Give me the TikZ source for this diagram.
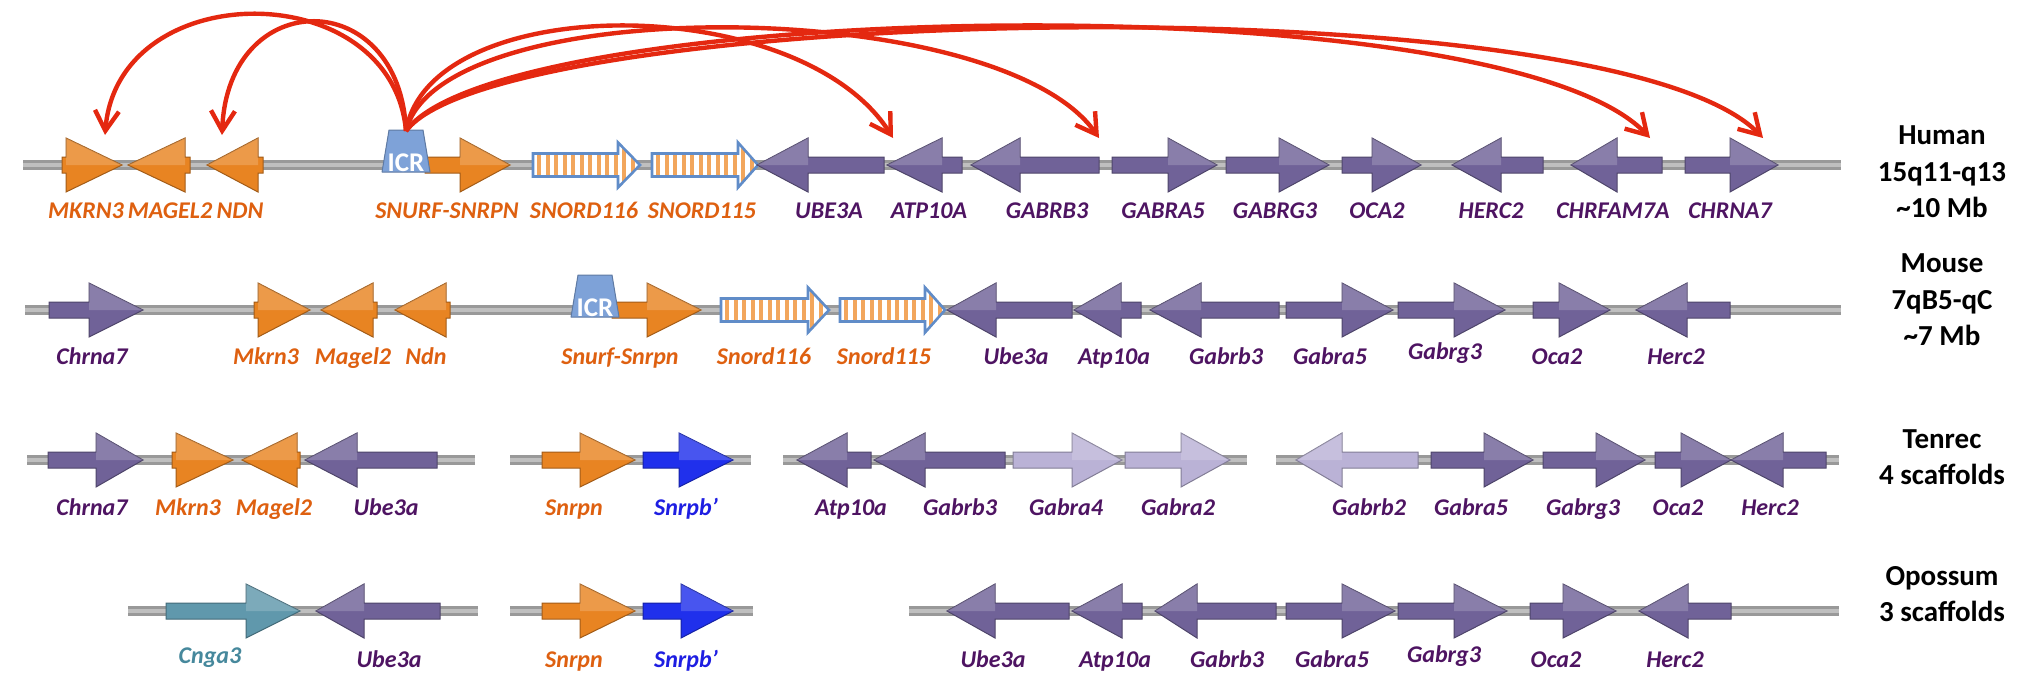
\documentclass[tikz,border=0pt]{standalone}
\usepackage{fontspec}
\setmainfont{Carlito}
\usetikzlibrary{arrows.meta}

\definecolor{genepurple}{RGB}{112,98,152}
\definecolor{lightpurple}{RGB}{186,178,214}
\definecolor{geneorange}{RGB}{232,132,34}
\definecolor{geneblue}{RGB}{32,48,236}
\definecolor{geneteal}{RGB}{96,152,172}
\definecolor{icrblue}{RGB}{126,162,216}
\definecolor{labpurple}{RGB}{78,20,98}
\definecolor{laborange}{RGB}{222,96,16}
\definecolor{labblue}{RGB}{30,30,226}
\definecolor{labteal}{RGB}{70,136,156}
\definecolor{arcred}{RGB}{228,40,16}
\definecolor{snordline}{RGB}{96,140,200}
\definecolor{stripe}{RGB}{242,166,92}

% tail, head base, tip, y, colour
\newcommand{\gene}[5]{%
  \filldraw[fill=#5, draw=#5!70!black, line width=0.5pt, line join=miter]
    (#1,#4-8) -- (#2,#4-8) -- (#2,#4-27) -- (#3,#4) -- (#2,#4+27) -- (#2,#4+8) -- (#1,#4+8) -- cycle;
  \fill[white, opacity=0.18] (#2,#4-27) -- (#3,#4) -- (#2,#4) -- cycle;}

% striped snoRNA cluster: tail, head base, tip, y
\newcommand{\snord}[4]{%
  \begin{scope}
    \clip (#1,#4-11.5) -- (#2,#4-11.5) -- (#2,#4-22.5) -- (#3,#4) -- (#2,#4+22.5) -- (#2,#4+11.5) -- (#1,#4+11.5) -- cycle;
    \fill[white] (#1,#4-25) rectangle (#3,#4+25);
    \foreach \s in {0,...,13} {\fill[stripe] ({#1+4+\s*8.5},#4-25) rectangle ++(4,50);}
  \end{scope}
  \draw[snordline, line width=1.3pt, line join=miter]
    (#1,#4-11.5) -- (#2,#4-11.5) -- (#2,#4-22.5) -- (#3,#4) -- (#2,#4+22.5) -- (#2,#4+11.5) -- (#1,#4+11.5) -- cycle;}

% imprinting centre box: centre x, top y
\newcommand{\icrbox}[2]{%
  \filldraw[fill=icrblue, draw=icrblue!75!black, line width=0.5pt, line join=round]
    (#1-17,#2) -- (#1+17,#2) -- (#1+24,#2+42) -- (#1-24,#2+42) -- cycle;}

\tikzset{
  backbone/.style={draw=gray!80, line width=1.2pt, double=gray!50, double distance=2.2pt},
  glab/.style={font=\bfseries\itshape\fontsize{12}{14}\selectfont, anchor=base, inner sep=0pt},
  plab/.style={glab, text=labpurple},
  olab/.style={glab, text=laborange},
  blab/.style={glab, text=labblue},
  tlab/.style={glab, text=labteal},
  spec/.style={font=\bfseries\fontsize{14.5}{18.25}\selectfont, align=center, inner sep=0pt},
  icrtext/.style={font=\bfseries\fontsize{13.5}{15}\selectfont, text=white, inner sep=0pt},
  icrarc/.style={draw=arcred, line width=2.2pt, -{Straight Barb[length=10pt,width=12pt]}}
}

\begin{document}
\begin{tikzpicture}[x=0.5pt, y=-0.5pt]
  \useasboundingbox (0,0) rectangle (2032,696);

  \draw[backbone] (23,165) -- (1841,165);
  \draw[backbone] (25,310) -- (1841,310);
  \draw[backbone] (27,460) -- (475,460);
  \draw[backbone] (510,460) -- (751,460);
  \draw[backbone] (783,460) -- (1247,460);
  \draw[backbone] (1276,460) -- (1839,460);
  \draw[backbone] (128,611) -- (478,611);
  \draw[backbone] (510,611) -- (753,611);
  \draw[backbone] (909,611) -- (1839,611);

  \gene{62}{66}{122}{165}{geneorange}
  \gene{190}{185}{128}{165}{geneorange}
  \gene{263}{258}{207}{165}{geneorange}
  \gene{425}{460}{510}{165}{geneorange}
  \snord{533}{618}{640}{165}
  \snord{652}{738}{758}{165}
  \gene{884}{808}{757}{165}{genepurple}
  \gene{962}{942}{887}{165}{genepurple}
  \gene{1099}{1020}{971}{165}{genepurple}
  \gene{1112}{1168}{1217}{165}{genepurple}
  \gene{1226}{1279}{1329}{165}{genepurple}
  \gene{1342}{1372}{1421}{165}{genepurple}
  \gene{1543}{1501}{1452}{165}{genepurple}
  \gene{1662}{1617}{1571}{165}{genepurple}
  \gene{1685}{1730}{1778}{165}{genepurple}

  \gene{49}{89}{143}{310}{genepurple}
  \gene{254}{258}{310}{310}{geneorange}
  \gene{377}{373}{321}{310}{geneorange}
  \gene{450}{446}{395}{310}{geneorange}
  \gene{612}{647}{701}{310}{geneorange}
  \snord{721}{808}{829}{310}
  \snord{840}{925}{945}{310}
  \gene{1072}{996}{947}{310}{genepurple}
  \gene{1141}{1121}{1074}{310}{genepurple}
  \gene{1279}{1201}{1150}{310}{genepurple}
  \gene{1286}{1342}{1393}{310}{genepurple}
  \gene{1398}{1454}{1505}{310}{genepurple}
  \gene{1533}{1559}{1610}{310}{genepurple}
  \gene{1730}{1687}{1636}{310}{genepurple}

  \gene{48}{96}{143}{460}{genepurple}
  \gene{172}{176}{233}{460}{geneorange}
  \gene{300}{297}{242}{460}{geneorange}
  \gene{437}{357}{305}{460}{genepurple}
  \gene{542}{580}{635}{460}{geneorange}
  \gene{643}{679}{733}{460}{geneblue}
  \gene{871}{847}{797}{460}{genepurple}
  \gene{1005}{925}{874}{460}{genepurple}
  \gene{1013}{1072}{1122}{460}{lightpurple}
  \gene{1125}{1181}{1230}{460}{lightpurple}
  \gene{1418}{1342}{1296}{460}{lightpurple}
  \gene{1431}{1484}{1533}{460}{genepurple}
  \gene{1543}{1596}{1645}{460}{genepurple}
  \gene{1655}{1681}{1731}{460}{genepurple}
  \gene{1826}{1783}{1731}{460}{genepurple}

  \gene{166}{246}{300}{611}{geneteal}
  \gene{440}{364}{316}{611}{genepurple}
  \gene{542}{580}{635}{611}{geneorange}
  \gene{643}{681}{733}{611}{geneblue}
  \gene{1069}{995}{947}{611}{genepurple}
  \gene{1142}{1122}{1072}{611}{genepurple}
  \gene{1276}{1197}{1155}{611}{genepurple}
  \gene{1286}{1342}{1395}{611}{genepurple}
  \gene{1398}{1454}{1507}{611}{genepurple}
  \gene{1530}{1563}{1616}{611}{genepurple}
  \gene{1731}{1688}{1639}{611}{genepurple}

  \icrbox{406}{130}
  \node[icrtext] (icr) at (406,163) {ICR};
  \icrbox{595}{275}
  \node[icrtext] (micr) at (595,308) {ICR};

  \coordinate (icrtop) at (406,131);
  \coordinate (tmkrn) at (105,135);
  \coordinate (tndn) at (222,135);
  \coordinate (tatp) at (893,138);
  \coordinate (tgabrb) at (1099,138);
  \coordinate (tchrfam) at (1650,138);
  \coordinate (tchrna) at (1763,138);
  \draw[icrarc] (icrtop) .. controls (392,-25) and (118,-25) .. (tmkrn);
  \draw[icrarc] (icrtop) .. controls (400,-15) and (228,-15) .. (tndn);
  \draw[icrarc] (icrtop) .. controls (430,-10) and (800,-10) .. (tatp);
  \draw[icrarc] (icrtop) .. controls (440,-10) and (1000,-5) .. (tgabrb);
  \draw[icrarc] (icrtop) .. controls (500,0) and (1500,-20) .. (tchrfam);
  \draw[icrarc] (icrtop) .. controls (500,5) and (1610,-20) .. (tchrna);

  \node[olab] (hmkrn) at (86,218) {MKRN3};
  \node[olab] (hmagel) at (170,218) {MAGEL2};
  \node[olab] (hndn) at (240,218) {NDN};
  \node[olab] (hsnurf) at (447,218) {SNURF-SNRPN};
  \node[olab] (hsnorda) at (584,218) {SNORD116};
  \node[olab] (hsnordb) at (702,218) {SNORD115};
  \node[plab] (hube) at (829,218) {UBE3A};
  \node[plab] (hatp) at (929,218) {ATP10A};
  \node[plab] (hgabrb) at (1047,218) {GABRB3};
  \node[plab] (hgabra) at (1163,218) {GABRA5};
  \node[plab] (hgabrg) at (1275,218) {GABRG3};
  \node[plab] (hoca) at (1377,218) {OCA2};
  \node[plab] (hherc) at (1491,218) {HERC2};
  \node[plab] (hchrfam) at (1613,218) {CHRFAM7A};
  \node[plab] (hchrna) at (1730,218) {CHRNA7};

  \node[plab] (mchrna) at (92,364) {Chrna7};
  \node[olab] (mmkrn) at (266,364) {Mkrn3};
  \node[olab] (mmagel) at (353,364) {Magel2};
  \node[olab] (mndn) at (426,364) {Ndn};
  \node[olab] (msnurf) at (620,364) {Snurf-Snrpn};
  \node[olab] (msnorda) at (764,364) {Snord116};
  \node[olab] (msnordb) at (884,364) {Snord115};
  \node[plab] (mube) at (1016,364) {Ube3a};
  \node[plab] (matp) at (1114,364) {Atp10a};
  \node[plab] (mgabrb) at (1226,364) {Gabrb3};
  \node[plab] (mgabra) at (1330,364) {Gabra5};
  \node[plab] (mgabrg) at (1445,359) {Gabrg3};
  \node[plab] (moca) at (1557,364) {Oca2};
  \node[plab] (mherc) at (1676,364) {Herc2};

  \node[plab] (tchrnal) at (92,515) {Chrna7};
  \node[olab] (tmkrnl) at (188,515) {Mkrn3};
  \node[olab] (tmagel) at (274,515) {Magel2};
  \node[plab] (tube) at (386,515) {Ube3a};
  \node[olab] (tsnrpn) at (574,515) {Snrpn};
  \node[blab] (tsnrpb) at (686,515) {Snrpb’};
  \node[plab] (tatpl) at (851,515) {Atp10a};
  \node[plab] (tgabrbl) at (960,515) {Gabrb3};
  \node[plab] (tgabrad) at (1066,515) {Gabra4};
  \node[plab] (tgabrab) at (1178,515) {Gabra2};
  \node[plab] (tgabrbb) at (1369,515) {Gabrb2};
  \node[plab] (tgabrae) at (1471,515) {Gabra5};
  \node[plab] (tgabrg) at (1583,515) {Gabrg3};
  \node[plab] (toca) at (1678,515) {Oca2};
  \node[plab] (therc) at (1770,515) {Herc2};

  \node[tlab] (ocnga) at (210,663) {Cnga3};
  \node[plab] (oubea) at (389,667) {Ube3a};
  \node[olab] (osnrpn) at (574,667) {Snrpn};
  \node[blab] (osnrpb) at (686,667) {Snrpb’};
  \node[plab] (oubeb) at (993,667) {Ube3a};
  \node[plab] (oatp) at (1115,667) {Atp10a};
  \node[plab] (ogabrb) at (1227,667) {Gabrb3};
  \node[plab] (ogabra) at (1332,667) {Gabra5};
  \node[plab] (ogabrg) at (1444,662) {Gabrg3};
  \node[plab] (ooca) at (1556,667) {Oca2};
  \node[plab] (oherc) at (1675,667) {Herc2};

  \node[spec] (human) at (1942,172) {Human\\15q11-q13\\\textasciitilde10 Mb};
  \node[spec] (mouse) at (1942,300) {Mouse\\7qB5-qC\\\textasciitilde7 Mb};
  \node[spec] (tenrec) at (1942,457) {Tenrec\\4 scaffolds};
  \node[spec] (opossum) at (1942,594) {Opossum\\3 scaffolds};
\end{tikzpicture}
\end{document}
